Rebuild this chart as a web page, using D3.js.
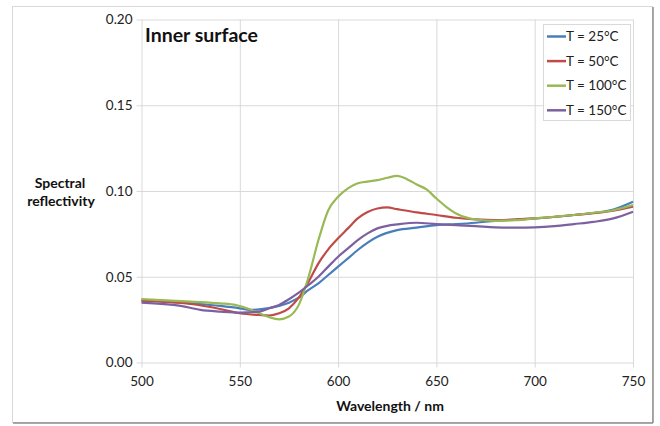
<!DOCTYPE html>
<html><head><meta charset="utf-8">
<script src="https://cdn.jsdelivr.net/npm/d3@7"></script>
<style>body{margin:0;background:#fff}svg{display:block}text{font-family:Lato,"Open Sans",sans-serif}</style>
</head><body><svg id="c" width="660" height="426"></svg>
<script>
const seriesNames = ["T = 25°C","T = 50°C","T = 100°C","T = 150°C"];
const seriesColors = ["#4A7EBB","#BE4B48","#98B954","#7D60A0"];
const xTicks = [500,550,600,650,700,750];
const yTicks = [0,0.05,0.10,0.15,0.20];

const wl25 = [500,525,540,550,555,560,570,575,580,585,590,595,600,605,610,620,630,640,650,660,670,680,700,720,740,750];
const v25  = [0.0365,0.0345,0.033,0.0316,0.0307,0.031,0.033,0.0349,0.0378,0.0423,0.0462,0.051,0.0559,0.0607,0.0656,0.0733,0.0772,0.0786,0.0801,0.0807,0.0815,0.0826,0.084,0.086,0.0892,0.0937];

const wl50 = [500,525,540,550,560,565,570,575,580,585,590,595,600,605,610,615,620,625,630,640,650,660,670,680,700,720,740,750];
const v50  = [0.0359,0.0341,0.0312,0.0287,0.0277,0.0274,0.0287,0.0316,0.0378,0.0471,0.0578,0.066,0.0724,0.0782,0.084,0.0877,0.0898,0.0904,0.0894,0.0875,0.086,0.0844,0.0834,0.083,0.084,0.086,0.0885,0.0908];

const wl100 = [500,525,540,548,555,560,565,570,575,580,585,590,595,600,605,610,620,625,630,635,640,645,650,655,660,665,670,680,690,700,710,720,730,740,750];
const v100  = [0.037,0.0355,0.0345,0.0335,0.031,0.0287,0.0264,0.0252,0.0268,0.0336,0.050,0.0714,0.0888,0.0966,0.1015,0.1045,0.1063,0.1077,0.1088,0.1069,0.1038,0.1009,0.0956,0.0908,0.0869,0.0846,0.0834,0.0826,0.083,0.084,0.085,0.086,0.0873,0.0888,0.0918];

const wl150 = [500,520,530,540,550,560,565,570,575,580,585,590,595,600,605,610,615,620,625,630,640,650,660,670,680,690,700,710,720,730,740,750];
const v150  = [0.0349,0.033,0.0307,0.0297,0.0291,0.0297,0.0316,0.0336,0.0369,0.0407,0.0452,0.050,0.0559,0.0617,0.0665,0.0714,0.0753,0.0782,0.0797,0.0805,0.0815,0.0807,0.0801,0.0795,0.0788,0.0786,0.0788,0.0795,0.0807,0.082,0.084,0.0879];

const series = [
  {name: seriesNames[0], color: seriesColors[0], x: wl25, y: v25},
  {name: seriesNames[1], color: seriesColors[1], x: wl50, y: v50},
  {name: seriesNames[2], color: seriesColors[2], x: wl100, y: v100},
  {name: seriesNames[3], color: seriesColors[3], x: wl150, y: v150}
];

const svg = d3.select("#c");
const L = 141.5, R = 633, T = 19.5, B = 362.5;
const x = d3.scaleLinear().domain([500,750]).range([L,R]);
const y = d3.scaleLinear().domain([0,0.2]).range([B,T]);

// frame
svg.append("rect").attr("x",12.5).attr("y",6.5).attr("width",640).attr("height",416)
  .attr("fill","#fff").attr("stroke","#d9d9d9");
svg.append("line").attr("x1",653).attr("x2",653).attr("y1",7).attr("y2",423).attr("stroke","#8c8c8c").attr("stroke-width",1.5);
svg.append("line").attr("x1",13).attr("x2",653).attr("y1",423).attr("y2",423).attr("stroke","#8c8c8c").attr("stroke-width",1.5);

// y grid + axis
const ya = svg.append("g").attr("transform",`translate(${L},0)`)
  .call(d3.axisLeft(y).tickValues(yTicks).tickFormat(d3.format(".2f")).tickSize(-(R-L)).tickPadding(9));
ya.select(".domain").remove();
ya.selectAll(".tick line").attr("stroke","#d9d9d9").attr("x1",-5);
ya.selectAll(".tick text").attr("font-size",13.5).attr("fill","#222");

const xa = svg.append("g").attr("transform",`translate(0,${B})`)
  .call(d3.axisBottom(x).tickValues(xTicks).tickSize(-(B-T)).tickPadding(14));
xa.select(".domain").remove();
xa.selectAll(".tick line").attr("stroke","#d9d9d9").attr("y1",5);
xa.selectAll(".tick text").attr("font-size",13.5).attr("fill","#222");

// lines
const line = d3.line().x(d=>x(d[0])).y(d=>y(d[1])).curve(d3.curveMonotoneX);
series.forEach(s=>{
  svg.append("path").datum(s.x.map((w,i)=>[w,s.y[i]]))
    .attr("d",line).attr("fill","none").attr("stroke",s.color).attr("stroke-width",2.2);
});

// title
svg.append("text").attr("x",145).attr("y",42).attr("font-size",19.5).attr("font-weight","bold").attr("fill","#111").text("Inner surface");

// axis titles
svg.append("text").attr("x",60).attr("y",188).attr("text-anchor","middle").attr("font-size",14).attr("font-weight","bold").attr("fill","#111").text("Spectral");
svg.append("text").attr("x",61).attr("y",206).attr("text-anchor","middle").attr("font-size",14).attr("font-weight","bold").attr("fill","#111").text("reflectivity");
svg.append("text").attr("x",390).attr("y",411).attr("text-anchor","middle").attr("font-size",14).attr("font-weight","bold").attr("fill","#111").text("Wavelength / nm");

// legend
const lg = svg.append("g");
lg.append("rect").attr("x",543.5).attr("y",24.5).attr("width",87).attr("height",96).attr("fill","#fff").attr("stroke","#d9d9d9");
series.forEach((s,i)=>{
  const yy = 36.5 + i*24.6;
  lg.append("line").attr("x1",547).attr("x2",566).attr("y1",yy).attr("y2",yy).attr("stroke",s.color).attr("stroke-width",2.5);
  lg.append("text").attr("x",566).attr("y",yy+4.5).attr("font-size",13.5).attr("fill","#222").text(s.name);
});
</script></body></html>
